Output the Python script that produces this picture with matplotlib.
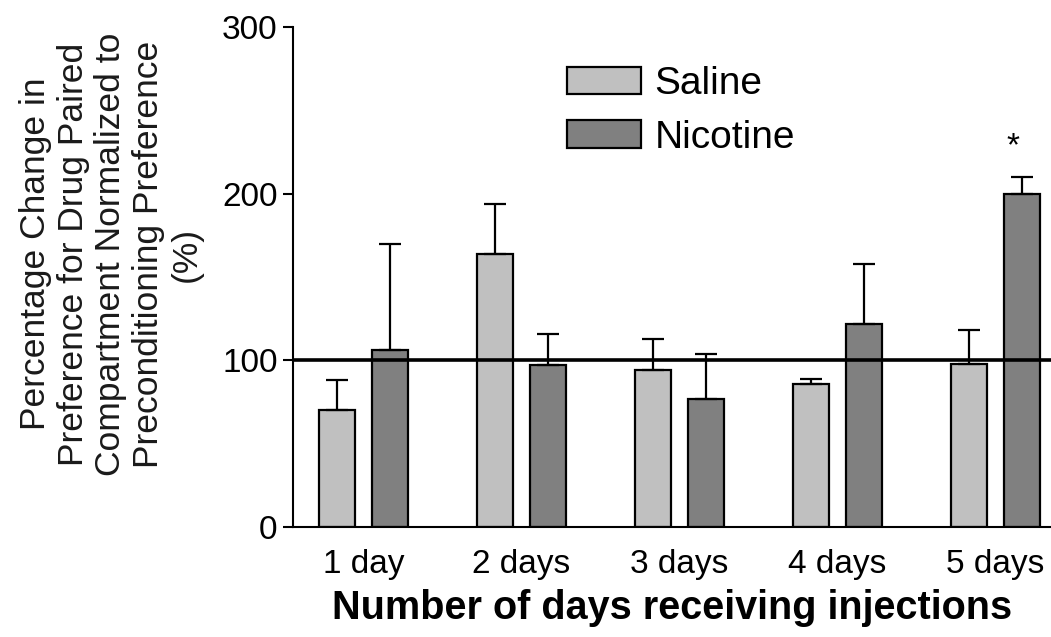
import numpy as np
import matplotlib
matplotlib.use('Agg')
import matplotlib.pyplot as plt
from matplotlib.patches import Patch

plt.rcParams['font.family'] = ['Liberation Sans', 'DejaVu Sans']

days = ['1 day', '2 days', '3 days', '4 days', '5 days']
saline = [70, 164, 94, 86, 98]
saline_err = [18, 30, 19, 3, 20]
nicotine = [106, 97, 77, 122, 200]
nicotine_err = [64, 19, 27, 36, 10]
star_value = 228

fig = plt.figure(figsize=(10.51, 6.37), dpi=100)
W, H = 1051, 637
ax = fig.add_axes([293 / W, 1 - 527 / H, (W - 293) / W, 500 / H])

x = np.arange(len(days))
off = 0.168
bw = 0.228
err_kw = dict(elinewidth=1.6, capthick=1.6, capsize=8, ecolor='black')

ax.bar(x - off, saline, bw, color='#c0c0c0', edgecolor='black', linewidth=1.6,
       yerr=[np.zeros(5), saline_err], error_kw=err_kw, zorder=2)
ax.bar(x + off, nicotine, bw, color='#808080', edgecolor='black', linewidth=1.6,
       yerr=[np.zeros(5), nicotine_err], error_kw=err_kw, zorder=2)

ax.axhline(100, color='black', linewidth=2.6, zorder=3)
ax.text(x[4] + off - 0.06, star_value, '*', ha='center', va='center', fontsize=24)

ax.set_xlim(-0.446, 4.35)
ax.set_ylim(0, 300)
ax.set_yticks([0, 100, 200, 300])
ax.set_xticks(x)
ax.set_xticklabels(days)
ax.tick_params(axis='y', labelsize=24, length=7, width=1.5, direction='out', pad=4)
ax.tick_params(axis='x', labelsize=24, length=0, pad=16)
for s in ['top', 'right']:
    ax.spines[s].set_visible(False)
ax.spines['left'].set_linewidth(1.5)
ax.spines['bottom'].set_linewidth(1.5)

ax.set_xlabel('Number of days receiving injections', fontsize=28.5, fontweight='bold', labelpad=6)

fig.text(111 / W, 1 - 254 / H,
         'Percentage Change in\nPreference for Drug Paired\nCompartment Normalized to\nPreconditioning Preference\n(%)',
         rotation=90, ha='center', va='center', multialignment='center', fontsize=25.5,
         linespacing=1.18, color='#1a1a1a')

handles = [Patch(facecolor='#c0c0c0', edgecolor='black', linewidth=1.6, label='Saline'),
           Patch(facecolor='#808080', edgecolor='black', linewidth=1.6, label='Nicotine')]
ax.legend(handles=handles, loc='upper left', bbox_to_anchor=(567 / W, 1 - 66 / H),
          bbox_transform=fig.transFigure, frameon=False, fontsize=28, borderpad=0,
          handlelength=1.9, handleheight=0.72, handletextpad=0.35, labelspacing=0.45,
          borderaxespad=0)

fig.savefig('out.png', dpi=100)
